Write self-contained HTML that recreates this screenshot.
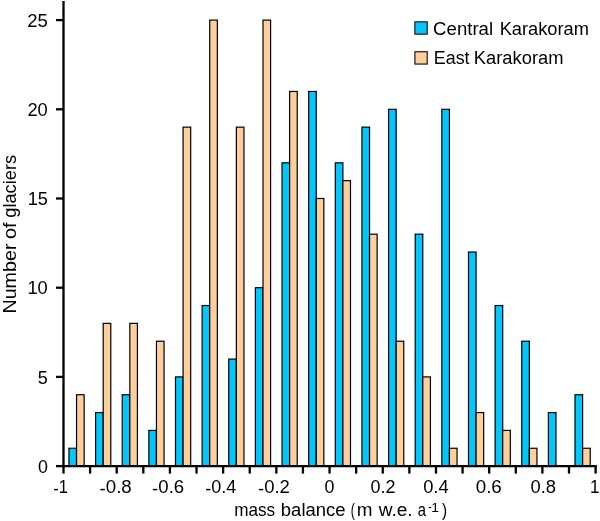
<!DOCTYPE html>
<html><head><meta charset="utf-8"><title>chart</title>
<style>
html,body{margin:0;padding:0;background:#fff;}
body{width:600px;height:521px;overflow:hidden;}
svg{display:block;will-change:transform;}
text{font-family:"Liberation Sans",sans-serif;fill:#000;}
</style></head><body>
<svg width="600" height="521" viewBox="0 0 600 521">
<rect width="600" height="521" fill="#fff"/>
<g stroke="#000" stroke-width="1.2">
<rect x="68.95" y="448.26" width="7.60" height="17.84" fill="#02c6fc"/>
<rect x="76.55" y="394.74" width="7.60" height="71.36" fill="#fdcf9d"/>
<rect x="95.59" y="412.58" width="7.60" height="53.52" fill="#02c6fc"/>
<rect x="103.19" y="323.38" width="7.60" height="142.72" fill="#fdcf9d"/>
<rect x="122.22" y="394.74" width="7.60" height="71.36" fill="#02c6fc"/>
<rect x="129.82" y="323.38" width="7.60" height="142.72" fill="#fdcf9d"/>
<rect x="148.85" y="430.42" width="7.60" height="35.68" fill="#02c6fc"/>
<rect x="156.45" y="341.22" width="7.60" height="124.88" fill="#fdcf9d"/>
<rect x="175.49" y="376.90" width="7.60" height="89.20" fill="#02c6fc"/>
<rect x="183.09" y="127.14" width="7.60" height="338.96" fill="#fdcf9d"/>
<rect x="202.13" y="305.54" width="7.60" height="160.56" fill="#02c6fc"/>
<rect x="209.73" y="20.10" width="7.60" height="446.00" fill="#fdcf9d"/>
<rect x="228.76" y="359.06" width="7.60" height="107.04" fill="#02c6fc"/>
<rect x="236.36" y="127.14" width="7.60" height="338.96" fill="#fdcf9d"/>
<rect x="255.40" y="287.70" width="7.60" height="178.40" fill="#02c6fc"/>
<rect x="263.00" y="20.10" width="7.60" height="446.00" fill="#fdcf9d"/>
<rect x="282.03" y="162.82" width="7.60" height="303.28" fill="#02c6fc"/>
<rect x="289.63" y="91.46" width="7.60" height="374.64" fill="#fdcf9d"/>
<rect x="308.66" y="91.46" width="7.60" height="374.64" fill="#02c6fc"/>
<rect x="316.26" y="198.50" width="7.60" height="267.60" fill="#fdcf9d"/>
<rect x="335.30" y="162.82" width="7.60" height="303.28" fill="#02c6fc"/>
<rect x="342.90" y="180.66" width="7.60" height="285.44" fill="#fdcf9d"/>
<rect x="361.94" y="127.14" width="7.60" height="338.96" fill="#02c6fc"/>
<rect x="369.54" y="234.18" width="7.60" height="231.92" fill="#fdcf9d"/>
<rect x="388.57" y="109.30" width="7.60" height="356.80" fill="#02c6fc"/>
<rect x="396.17" y="341.22" width="7.60" height="124.88" fill="#fdcf9d"/>
<rect x="415.20" y="234.18" width="7.60" height="231.92" fill="#02c6fc"/>
<rect x="422.81" y="376.90" width="7.60" height="89.20" fill="#fdcf9d"/>
<rect x="441.84" y="109.30" width="7.60" height="356.80" fill="#02c6fc"/>
<rect x="449.44" y="448.26" width="7.60" height="17.84" fill="#fdcf9d"/>
<rect x="468.48" y="252.02" width="7.60" height="214.08" fill="#02c6fc"/>
<rect x="476.08" y="412.58" width="7.60" height="53.52" fill="#fdcf9d"/>
<rect x="495.11" y="305.54" width="7.60" height="160.56" fill="#02c6fc"/>
<rect x="502.71" y="430.42" width="7.60" height="35.68" fill="#fdcf9d"/>
<rect x="521.75" y="341.22" width="7.60" height="124.88" fill="#02c6fc"/>
<rect x="529.35" y="448.26" width="7.60" height="17.84" fill="#fdcf9d"/>
<rect x="548.38" y="412.58" width="7.60" height="53.52" fill="#02c6fc"/>
<rect x="575.01" y="394.74" width="7.60" height="71.36" fill="#02c6fc"/>
<rect x="582.62" y="448.26" width="7.60" height="17.84" fill="#fdcf9d"/>
</g>
<g stroke="#000" stroke-width="2.3" fill="none">
<line x1="63.5" y1="1" x2="63.5" y2="467.25"/>
<line x1="62.35" y1="466.1" x2="596.75" y2="466.1"/>
<line x1="63.50" y1="466.1" x2="63.50" y2="473.60"/>
<line x1="90.11" y1="466.1" x2="90.11" y2="473.60"/>
<line x1="116.71" y1="466.1" x2="116.71" y2="473.60"/>
<line x1="143.31" y1="466.1" x2="143.31" y2="473.60"/>
<line x1="169.92" y1="466.1" x2="169.92" y2="473.60"/>
<line x1="196.53" y1="466.1" x2="196.53" y2="473.60"/>
<line x1="223.13" y1="466.1" x2="223.13" y2="473.60"/>
<line x1="249.74" y1="466.1" x2="249.74" y2="473.60"/>
<line x1="276.34" y1="466.1" x2="276.34" y2="473.60"/>
<line x1="302.94" y1="466.1" x2="302.94" y2="473.60"/>
<line x1="329.55" y1="466.1" x2="329.55" y2="473.60"/>
<line x1="356.16" y1="466.1" x2="356.16" y2="473.60"/>
<line x1="382.76" y1="466.1" x2="382.76" y2="473.60"/>
<line x1="409.37" y1="466.1" x2="409.37" y2="473.60"/>
<line x1="435.97" y1="466.1" x2="435.97" y2="473.60"/>
<line x1="462.57" y1="466.1" x2="462.57" y2="473.60"/>
<line x1="489.18" y1="466.1" x2="489.18" y2="473.60"/>
<line x1="515.79" y1="466.1" x2="515.79" y2="473.60"/>
<line x1="542.39" y1="466.1" x2="542.39" y2="473.60"/>
<line x1="569.00" y1="466.1" x2="569.00" y2="473.60"/>
<line x1="595.60" y1="466.1" x2="595.60" y2="473.60"/>
<line x1="56.00" y1="466.10" x2="63.5" y2="466.10"/>
<line x1="56.00" y1="376.90" x2="63.5" y2="376.90"/>
<line x1="56.00" y1="287.70" x2="63.5" y2="287.70"/>
<line x1="56.00" y1="198.50" x2="63.5" y2="198.50"/>
<line x1="56.00" y1="109.30" x2="63.5" y2="109.30"/>
<line x1="56.00" y1="20.10" x2="63.5" y2="20.10"/>
</g>
<text transform="translate(37.95,472.75) scale(0.9786,1)" font-size="18.25">0</text>
<text transform="translate(37.84,383.55) scale(0.9901,1)" font-size="18.25">5</text>
<text transform="translate(27.40,294.35) scale(1.0049,1)" font-size="18.25">10</text>
<text transform="translate(27.71,205.15) scale(0.9953,1)" font-size="18.25">15</text>
<text transform="translate(27.40,115.95) scale(1.0048,1)" font-size="18.25">20</text>
<text transform="translate(27.29,26.75) scale(1.0169,1)" font-size="18.25">25</text>
<text transform="translate(53.20,493.40) scale(0.9053,1)" font-size="18.25"><tspan dy="1.1">-</tspan><tspan dy="-1.1">1</tspan></text>
<text transform="translate(99.51,493.40) scale(1.0256,1)" font-size="18.25"><tspan dy="1.1">-</tspan><tspan dy="-1.1">0.8</tspan></text>
<text transform="translate(152.12,493.40) scale(1.0189,1)" font-size="18.25"><tspan dy="1.1">-</tspan><tspan dy="-1.1">0.6</tspan></text>
<text transform="translate(205.14,493.40) scale(0.9905,1)" font-size="18.25"><tspan dy="1.1">-</tspan><tspan dy="-1.1">0.4</tspan></text>
<text transform="translate(258.02,493.40) scale(1.0131,1)" font-size="18.25"><tspan dy="1.1">-</tspan><tspan dy="-1.1">0.2</tspan></text>
<text transform="translate(324.55,493.40) scale(0.9786,1)" font-size="18.25">0</text>
<text transform="translate(370.54,493.40) scale(0.9869,1)" font-size="18.25">0.2</text>
<text transform="translate(423.13,493.40) scale(1.0048,1)" font-size="18.25">0.4</text>
<text transform="translate(475.71,493.40) scale(1.0291,1)" font-size="18.25">0.6</text>
<text transform="translate(530.52,493.40) scale(1.0069,1)" font-size="18.25">0.8</text>
<text transform="translate(590.00,493.40) scale(0.9321,1)" font-size="18.25">1</text>
<text transform="translate(234.15,515.60) scale(0.9073,1)" font-size="18.9">mass</text>
<text transform="translate(280.86,515.60) scale(0.9768,1)" font-size="18.9">balance</text>
<text transform="translate(350.75,515.60) scale(0.6480,1)" font-size="18.9">(</text>
<text transform="translate(356.83,515.60) scale(0.9992,1)" font-size="18.9">m</text>
<text transform="translate(378.78,515.60) scale(1.0083,1)" font-size="18.9">w.e.</text>
<text transform="translate(417.69,515.60) scale(0.7836,1)" font-size="18.9">a</text>
<text transform="translate(431.17,511.60) scale(1.1051,1)" font-size="12.6">1</text>
<text transform="translate(442.08,515.60) scale(0.8082,1)" font-size="18.9">)</text>
<text transform="translate(433.10,34.60) scale(0.9849,1)" font-size="18.9">Central</text>
<text transform="translate(499.63,34.60) scale(0.9678,1)" font-size="18.9">Karakoram</text>
<text transform="translate(433.86,64.20) scale(0.9451,1)" font-size="18.9">East</text>
<text transform="translate(473.82,64.20) scale(0.9700,1)" font-size="18.9">Karakoram</text>
<text transform="translate(16.40,313.58) rotate(-90) scale(1.0423,1)" font-size="18.9">Number</text>
<text transform="translate(16.40,239.11) rotate(-90) scale(1.0560,1)" font-size="18.9">of</text>
<text transform="translate(16.40,217.74) rotate(-90) scale(0.9657,1)" font-size="18.9">glaciers</text>
<rect x="428.7" y="507.0" width="2.5" height="1.1" fill="#000"/>
<rect x="414.9" y="21.85" width="12.3" height="12.3" fill="#02c6fc" stroke="#1a1a1a" stroke-width="1.2"/>
<rect x="414.9" y="51.75" width="12.3" height="12.3" fill="#fdcf9d" stroke="#1a1a1a" stroke-width="1.2"/>
</svg>
</body></html>
